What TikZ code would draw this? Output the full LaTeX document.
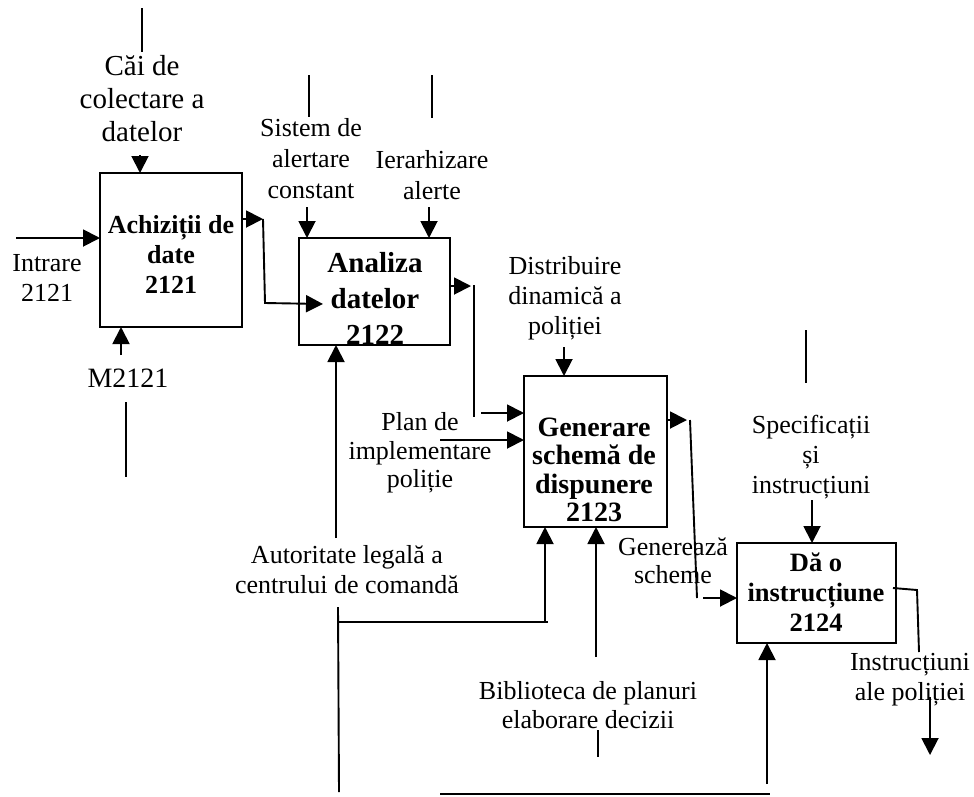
\documentclass[tikz,border=0pt]{standalone}
\usepackage{fontspec}
\setmainfont{Liberation Serif}
\usetikzlibrary{arrows.meta}

\newcommand\lblfont{\fontsize{26}{30}\selectfont}

\begin{document}
\begin{tikzpicture}[x=1pt,y=-1pt,
  wire/.style={line width=1.9pt},
  arr/.style={wire,-{Triangle[length=17pt,width=17pt]}},
  actbox/.style={draw,line width=1.9pt,inner sep=0pt,outer sep=0pt},
  lbl/.style={align=center,inner sep=0pt,font=\lblfont},
  boxtext/.style={align=center,inner sep=0pt}]

\useasboundingbox (0,0) rectangle (974,796);

% activity boxes
\node[actbox,minimum width=142pt,minimum height=154pt] (b1) at (171,250) {};
\node[actbox,minimum width=151pt,minimum height=107pt] (b2) at (374.5,291.5) {};
\node[actbox,minimum width=143pt,minimum height=151pt] (b3) at (595.5,451.5) {};
\node[actbox,minimum width=159pt,minimum height=100pt] (b4) at (816.5,593) {};

% box titles
\node[boxtext,font=\fontsize{26}{30}\selectfont\bfseries] (t1) at (171,254) {Achiziții de\\date\\2121};
\node[boxtext,font=\fontsize{29}{36}\selectfont\bfseries] (t2) at (375,298) {Analiza\\datelor\\2122};
\node[boxtext,font=\fontsize{28}{28.5}\selectfont\bfseries] (t3) at (594,470) {Generare\\schemă de\\dispunere\\2123};
\node[boxtext,font=\fontsize{26.5}{30}\selectfont\bfseries] (t4) at (816,592) {Dă o\\instrucțiune\\2124};

% arrow labels
\node[lbl,font=\fontsize{29}{33}\selectfont] (l1) at (142,99) {Căi de\\colectare a\\datelor};
\node[lbl] (l2) at (47,278) {Intrare\\2121};
\node[lbl,font=\fontsize{28}{30}\selectfont] (l3) at (128,378) {M2121};
\node[lbl,font=\fontsize{26}{31}\selectfont] (l4) at (311,159) {Sistem de\\alertare\\constant};
\node[lbl,font=\fontsize{26}{31}\selectfont] (l5) at (432,175) {Ierarhizare\\alerte};
\node[lbl] (l6) at (565,298) {Distribuire\\dinamică a\\poliției};
\node[lbl,font=\fontsize{26}{28.5}\selectfont] (l7) at (420,453) {Plan de\\implementare\\poliție};
\node[lbl,font=\fontsize{26}{28}\selectfont] (l8) at (673,561) {Generează\\scheme};
\node[lbl] (l9) at (347,570) {Autoritate legală a\\centrului de comandă};
\node[lbl,font=\fontsize{26}{29}\selectfont] (l10) at (588,705) {Biblioteca de planuri\\elaborare decizii};
\node[lbl] (l11) at (811,457) {Specificații\\și\\instrucțiuni};
\node[lbl] (l12) at (910,680) {Instrucțiuni\\ale poliției};

% free ends and bends of the connectors
\coordinate (c1a) at (142,8);   \coordinate (c1b) at (142,52);
\coordinate (c1c) at (140,155);
\coordinate (c2) at (16,238);
\coordinate (c3) at (121,355);
\coordinate (c3a) at (126,402); \coordinate (c3b) at (126,477);
\coordinate (o1a) at (263,219); \coordinate (o1b) at (265,303); \coordinate (o1c) at (323,304);
\coordinate (s1a) at (309,75);  \coordinate (s1b) at (309,117); \coordinate (s1c) at (307,207);
\coordinate (s2a) at (432,75);  \coordinate (s2b) at (432,118); \coordinate (s2c) at (429,207);
\coordinate (o2a) at (471,286); \coordinate (o2b) at (474,285); \coordinate (o2c) at (474,417);
\coordinate (o2d) at (481,413);
\coordinate (a1a) at (336,538);
\coordinate (a1b) at (338,607); \coordinate (a1c) at (338,622); \coordinate (a1d) at (339,792);
\coordinate (a1e) at (545,622);
\coordinate (d1) at (564,347);
\coordinate (p1) at (440,440);
\coordinate (o3a) at (687,420); \coordinate (o3b) at (690,420); \coordinate (o3c) at (697,598);
\coordinate (o3d) at (703,598);
\coordinate (lib1) at (596,657);
\coordinate (lib2) at (598,730); \coordinate (lib3) at (598,757);
\coordinate (sp1) at (806,330); \coordinate (sp2) at (806,383); \coordinate (sp3) at (812,500);
\coordinate (o4a) at (917,590); \coordinate (o4b) at (919,652);
\coordinate (o4c) at (930,697); \coordinate (o4d) at (930,755);
\coordinate (bt1) at (767,784);
\coordinate (bt2) at (440,794); \coordinate (bt3) at (770,794);

% box 2121
\draw[wire] (c1a) -- (c1b);
\draw[arr] (c1c) -- (c1c |- b1.north);
\draw[arr] (c2) -- (c2 -| b1.west);
\draw[arr] (c3) -- (c3 |- b1.south);
\draw[wire] (c3a) -- (c3b);
\draw[arr] (b1.east |- o1a) -- (o1a);
\draw[arr] (o1a) -- (o1b) -- (o1c);

% box 2122
\draw[wire] (s1a) -- (s1b);
\draw[arr] (s1c) -- (s1c |- b2.north);
\draw[wire] (s2a) -- (s2b);
\draw[arr] (s2c) -- (s2c |- b2.north);
\draw[arr] (b2.east |- o2a) -- (o2a);
\draw[wire] (o2b) -- (o2c);
\draw[arr] (o2d) -- (o2d -| b3.west);
\draw[arr] (a1a) -- (a1a |- b2.south);
\draw[wire] (a1b) -- (a1d);
\draw[wire] (a1c) -- ([xshift=3pt]a1e);
\draw[arr] (a1e) -- (a1e |- b3.south);

% box 2123
\draw[arr] (d1) -- (d1 |- b3.north);
\draw[arr] (p1) -- (p1 -| b3.west);
\draw[arr] (b3.east |- o3a) -- (o3a);
\draw[wire] (o3b) -- (o3c);
\draw[arr] (o3d) -- (o3d -| b4.west);
\draw[arr] (lib1) -- (lib1 |- b3.south);
\draw[wire] (lib2) -- (lib3);

% box 2124
\draw[wire] (sp1) -- (sp2);
\draw[arr] (sp3) -- (sp3 |- b4.north);
\draw[wire] ([xshift=-3pt]b4.east |- 0,588) -- (o4a) -- (o4b);
\draw[arr] (o4c) -- (o4d);
\draw[arr] (bt1) -- (bt1 |- b4.south);
\draw[wire] (bt2) -- (bt3);

\end{tikzpicture}
\end{document}
